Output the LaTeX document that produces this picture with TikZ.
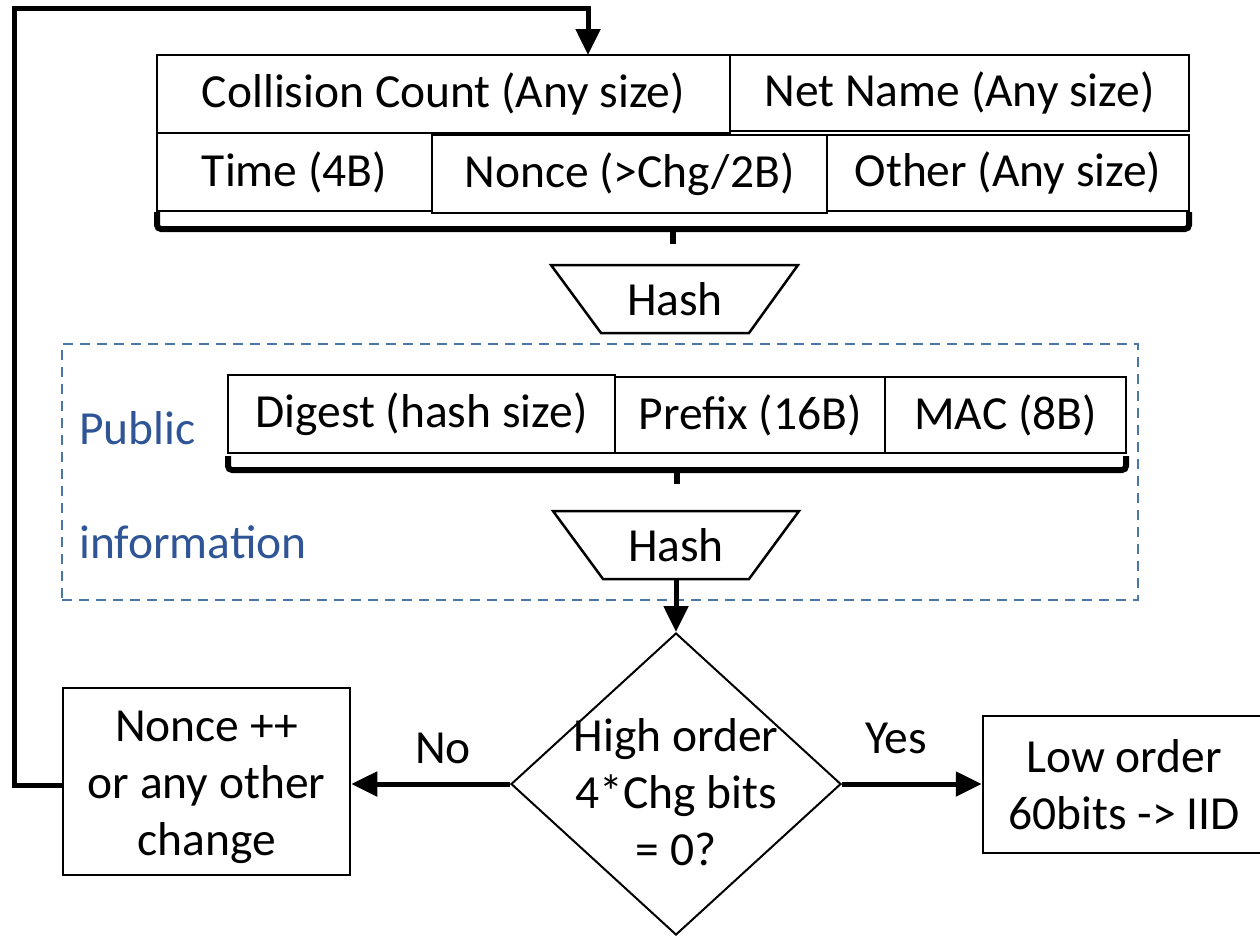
\documentclass[tikz,border=0pt]{standalone}
\usepackage{fontspec}
\setmainfont{Carlito}
\usetikzlibrary{arrows.meta,shapes.geometric}
\definecolor{dashblue}{HTML}{4A76A8}
\definecolor{txtblue}{HTML}{2F5597}
\begin{document}
\begin{tikzpicture}[x=1pt,y=-1pt,
  every node/.style={font=\fontsize{47.5}{57}\selectfont},
  cell/.style={draw, line width=2.5pt, inner sep=0pt, align=center},
  flow/.style={line width=5pt, -{Triangle[length=26pt,width=24pt]}},
  brace/.style={line width=6pt, rounded corners=4pt},
  trap/.style={draw, line width=2.5pt, line join=miter}]
\useasboundingbox (0,0) rectangle (1260,937);
\clip (0,0) rectangle (1260,937);
% top fields
\node[cell, minimum width=573pt, minimum height=78pt] (cc) at (443.5,94) {Collision Count (Any size)};
\node[cell, minimum width=459pt, minimum height=76pt] (nn) at (959.5,93) {Net Name (Any size)};
\node[cell, minimum width=275pt, minimum height=78pt] (tm) at (294.5,172) {Time (4B)};
\node[cell, minimum width=395pt, minimum height=78pt] (nc) at (629.5,174) {Nonce (>Chg/2B)};
\node[cell, minimum width=362pt, minimum height=76pt] (ot) at (1008,173) {Other (Any size)};
% brace 1
\draw[brace] (157,212) -- (157,229) -- (1189,229) -- (1189,212);
\coordinate (b1) at (673,229);
\coordinate (b1t) at (673,244);
\draw[line width=6pt] (b1) -- (b1t);
% hash 1
\node[inner sep=0pt, minimum width=148pt, minimum height=68pt] (h1) at (675,299) {Hash};
\draw[trap] (551,265) -- (798,265) -- (749,333) -- (601,333) -- cycle;
% dashed region
\node[draw=dashblue, line width=2pt, dash pattern=on 10pt off 7pt, inner sep=0pt,
  minimum width=1076pt, minimum height=256pt] (pub) at (600,472) {};
\node[anchor=west, text=txtblue, inner sep=0pt] (pl) at (79,428) {Public};
\node[anchor=west, text=txtblue, inner sep=0pt] (il) at (79,542) {information};
% public fields
\node[cell, minimum width=387pt, minimum height=78pt] (dg) at (421.5,414) {Digest (hash size)};
\node[cell, minimum width=270pt, minimum height=76pt] (pf) at (750,415) {Prefix (16B)};
\node[cell, minimum width=241pt, minimum height=76pt] (mc) at (1005.5,415) {MAC (8B)};
% brace 2
\draw[brace] (228,456) -- (228,470) -- (1126,470) -- (1126,456);
\coordinate (b2) at (677,470);
\coordinate (b2t) at (677,484);
\draw[line width=6pt] (b2) -- (b2t);
% hash 2
\node[inner sep=0pt, minimum width=146pt, minimum height=68pt] (h2) at (676,545) {Hash};
\draw[trap] (553,511) -- (799,511) -- (749,579) -- (603,579) -- cycle;
% decision
\node[diamond, draw, line width=2pt, inner sep=0pt, minimum width=330pt, minimum height=302pt] (dec) at (676,784) {};
\node[align=center, inner sep=0pt] (dect) at (676,792) {High order\\4*Chg bits\\= 0?};
% outcome boxes
\node[cell, minimum width=287pt, minimum height=187pt] (nx) at (206.5,781.5) {};
\node[align=center, inner sep=0pt] (nxt) at (206.5,787) {Nonce ++\\or any other\\change};
\node[cell, minimum width=282pt, minimum height=137pt] (lo) at (1124,784.5) {Low order\\60bits -> IID};
% arrows
\draw[flow] (h2.south) -- (dec.north);
\draw[flow] (dec.west) -- (dec.west -| nx.east);
\draw[flow] (dec.east) -- (dec.east -| lo.west);
\node (no) at (443,748) {No};
\node (yes) at (896,738) {Yes};
\coordinate (c1) at (14,785);
\coordinate (c2) at (14,8);
\coordinate (c3) at (588,8);
\coordinate (c4) at (588,55);
\draw[flow] (nx.west |- c1) -- (c1) -- (c2) -- (c3) -- (c4);
\end{tikzpicture}
\end{document}
